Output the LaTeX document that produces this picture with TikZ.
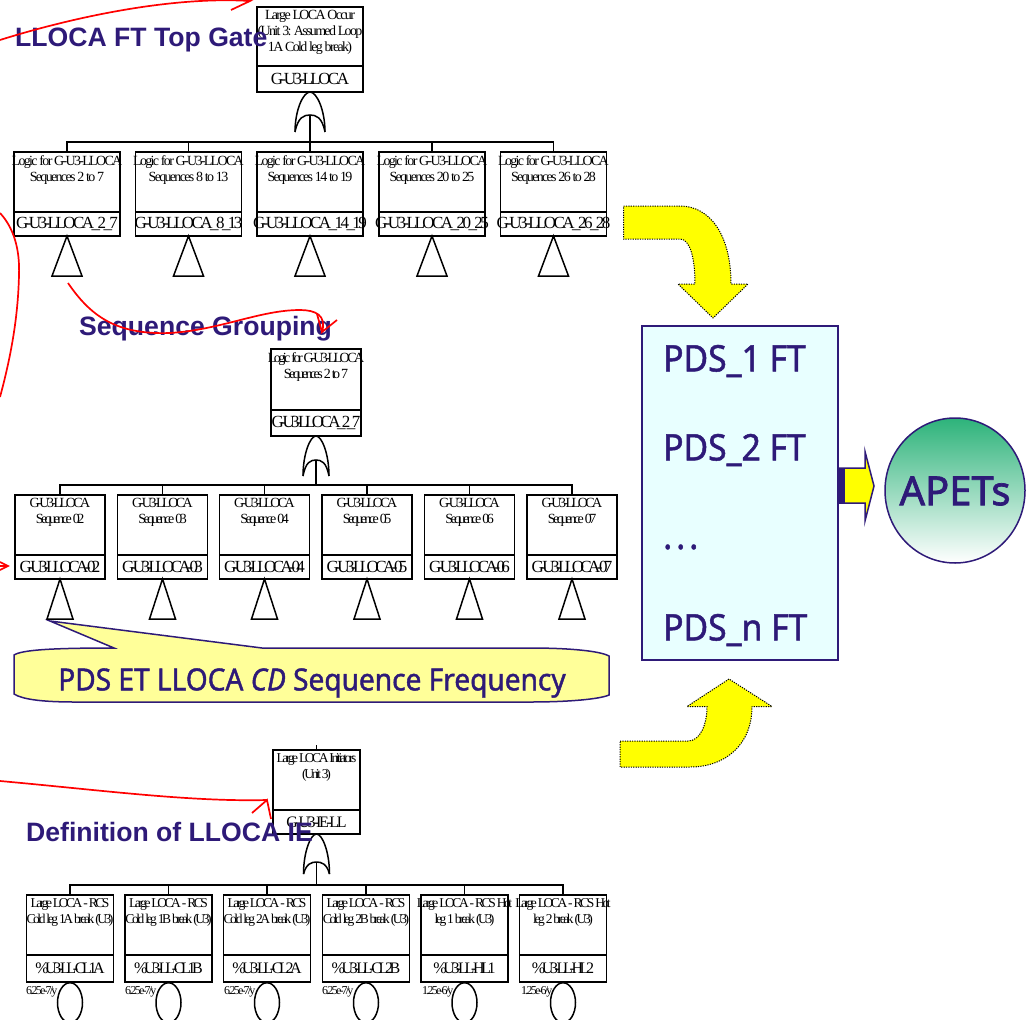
\documentclass[tikz,border=0pt]{standalone}
\usepackage{fontspec}
\setmainfont{Liberation Serif}
\newfontfamily\tightc[LetterSpace=-12]{Liberation Serif}
\newfontfamily\tightd[LetterSpace=-15]{Liberation Serif}
\newfontfamily\tighte[LetterSpace=-18]{Liberation Serif}
\newfontfamily\tightf[LetterSpace=-21]{Liberation Serif}
\newfontfamily\headfont{Liberation Sans}
\newfontfamily\pdsfont[FakeBold=1.3,FakeStretch=0.92]{Noto Sans}
\newfontfamily\apetfont[FakeBold=1.8]{Noto Sans}
\usetikzlibrary{shapes.geometric,calc}
\definecolor{navy}{HTML}{2E1A78}
\definecolor{paleyellow}{HTML}{FFFF99}
\definecolor{palecyan}{HTML}{E8FFFF}
\definecolor{apetgreen}{HTML}{2DB37A}
\definecolor{pureyellow}{HTML}{FFFF00}
\tikzset{
  cell/.style={draw=black,line width=1.6pt,rectangle,inner sep=0pt,outer sep=0pt,anchor=north,fill=white},
  ftline/.style={draw=black,line width=1.5pt},
  gatepath/.style={draw=black,line width=1.5pt},
  redcurve/.style={draw=red,line width=1.7pt},
  headtext/.style={font=\headfont\bfseries\fontsize{26.6}{28}\selectfont,text=navy,inner sep=0pt},
  pdstext/.style={font=\pdsfont\fontsize{36.6}{38}\selectfont,text=navy,inner sep=0pt,anchor=west},
  bigarrow/.style={fill=pureyellow,draw=black,line width=1pt,dash pattern=on 1.2pt off 1.2pt},
  ratetext/.style={font=\tightd\fontsize{12}{13}\selectfont,inner sep=0pt,anchor=west}
}
% name, cx, width, top, divider, bottom, description, label
\newcommand{\ftbox}[8]{%
  \node[cell,minimum width=#3pt,minimum height={(#5-#4)*1pt}] (#1-d) at (#2,#4) {};
  \node[cell,minimum width=#3pt,minimum height={(#6-#5)*1pt}] (#1) at (#2,#5) {};
  \node[anchor=north,align=center,inner sep=0pt,font=\dfont] (#1-t) at (#2,{#4+\dshift}) {#7};
  \node[inner sep=0pt,font=\lfont] (#1-l) at (#1.center) {#8};
}
% name, parent node, half width, height, inner-arc depth, bar y
\newcommand{\orgate}[6]{%
  \coordinate (#1-top) at (#2.south);
  \coordinate (#1-in) at ($(#2.south)+(0,#5)$);
  \coordinate (#1-bar) at ($(#2.south)+(0,#6)$);
  \draw[gatepath] ($(#2.south)+(-#3,#4)$)
     .. controls ($(#2.south)+(-#3,{#4*0.45})$) and ($(#2.south)+({-#3*0.45},0)$) .. (#1-top)
     .. controls ($(#2.south)+({#3*0.45},0)$) and ($(#2.south)+(#3,{#4*0.45})$) .. ($(#2.south)+(#3,#4)$);
  \draw[gatepath] ($(#2.south)+(-#3,#4)$)
     .. controls ($(#2.south)+({-#3*0.8},{#5+2})$) and ($(#2.south)+({-#3*0.4},#5)$) .. (#1-in)
     .. controls ($(#2.south)+({#3*0.4},#5)$) and ($(#2.south)+({#3*0.8},{#5+2})$) .. ($(#2.south)+(#3,#4)$);
  \draw[ftline] (#1-in) -- (#1-bar);
}
\newcommand{\xfer}[3]{\draw[gatepath] (#1.south) -- ++(-#2,#3) -- ++({2*#2},0) -- cycle;}
\begin{document}
\begin{tikzpicture}[x=1pt,y=-1pt]
\useasboundingbox (0,0) rectangle (1035,1019);
\clip (0,0) rectangle (1035,1019);

% ---------- top group
\def\dshift{3.5}
\def\dfont{\tightc\fontsize{14}{15.6}\selectfont}
\def\lfont{\tightd\fontsize{17}{18}\selectfont}
\ftbox{top}{310}{106}{7}{66}{92}{Large LOCA Occur\\(Unit 3: Assumed Loop\\1A Cold leg break)}{G-U3-LLOCA}
\orgate{ga}{top}{15}{40}{23}{50}
\ftbox{a1}{67}{106}{152}{212}{236}{Logic for G-U3-LLOCA\\Sequences 2 to 7}{G-U3-LLOCA\_2\_7}
\ftbox{a2}{188.5}{106}{152}{212}{236}{Logic for G-U3-LLOCA\\Sequences 8 to 13}{G-U3-LLOCA\_8\_13}
\ftbox{a3}{310}{106}{152}{212}{236}{Logic for G-U3-LLOCA\\Sequences 14 to 19}{G-U3-LLOCA\_14\_19}
\ftbox{a4}{432}{106}{152}{212}{236}{Logic for G-U3-LLOCA\\Sequences 20 to 25}{G-U3-LLOCA\_20\_25}
\ftbox{a5}{553.5}{106}{152}{212}{236}{Logic for G-U3-LLOCA\\Sequences 26 to 28}{G-U3-LLOCA\_26\_28}
\foreach \n in {a1,a2,a3,a4,a5}{
  \draw[ftline] (\n-d.north) |- (ga-bar);
  \xfer{\n}{15}{40}
}

% ---------- middle group
\def\dfont{\tighte\fontsize{14}{15.6}\selectfont}
\def\lfont{\tightf\fontsize{17}{18}\selectfont}
\ftbox{mid}{316}{90}{349}{410}{436}{Logic for G-U3-LLOCA\\Sequences 2 to 7}{G-U3-LLOCA\_2\_7}
\orgate{gb}{mid}{13}{40}{24}{49}
\ftbox{b1}{60}{90}{495}{555}{579}{G-U3-LLOCA\\Sequence 02}{G-U3-LLOCA-02}
\ftbox{b2}{162.5}{90}{495}{555}{579}{G-U3-LLOCA\\Sequence 03}{G-U3-LLOCA-03}
\ftbox{b3}{264.5}{90}{495}{555}{579}{G-U3-LLOCA\\Sequence 04}{G-U3-LLOCA-04}
\ftbox{b4}{367}{90}{495}{555}{579}{G-U3-LLOCA\\Sequence 05}{G-U3-LLOCA-05}
\ftbox{b5}{469.5}{90}{495}{555}{579}{G-U3-LLOCA\\Sequence 06}{G-U3-LLOCA-06}
\ftbox{b6}{572}{90}{495}{555}{579}{G-U3-LLOCA\\Sequence 07}{G-U3-LLOCA-07}
\foreach \n in {b1,b2,b3,b4,b5,b6}{
  \draw[ftline] (\n-d.north) |- (gb-bar);
  \xfer{\n}{13}{40}
}

% ---------- bottom group
\def\dfont{\tighte\fontsize{13.5}{15.6}\selectfont}
\def\lfont{\tightd\fontsize{16}{18}\selectfont}
\ftbox{bot}{316.5}{87}{750}{810}{834}{Large LOCA Initiators\\(Unit 3)}{G-U3-IE-LL}
\coordinate (botup) at (316.5,745);
\draw[ftline] (bot-d.north) -- (botup);
\orgate{gc}{bot}{13}{40}{28}{51}
\def\lfont{\tightf\fontsize{16}{18}\selectfont}
\ftbox{c1}{70}{87}{895}{955}{982}{Large LOCA - RCS\\Cold leg 1A break (U3)}{\%U3-LL-CL1A}
\ftbox{c2}{168.5}{87}{895}{955}{982}{Large LOCA - RCS\\Cold leg 1B break (U3)}{\%U3-LL-CL1B}
\ftbox{c3}{267}{87}{895}{955}{982}{Large LOCA - RCS\\Cold leg 2A break (U3)}{\%U3-LL-CL2A}
\ftbox{c4}{366}{87}{895}{955}{982}{Large LOCA - RCS\\Cold leg 2B break (U3)}{\%U3-LL-CL2B}
\ftbox{c5}{464.5}{87}{895}{955}{982}{Large LOCA - RCS Hot\\leg 1 break (U3)}{\%U3-LL-HL1}
\ftbox{c6}{563}{87}{895}{955}{982}{Large LOCA - RCS Hot\\leg 2 break (U3)}{\%U3-LL-HL2}
\foreach \n in {c1,c2,c3,c4,c5,c6}{
  \draw[ftline] (\n-d.north) |- (gc-bar);
  \node[draw=black,line width=1.5pt,ellipse,inner sep=0pt,minimum width=25pt,minimum height=40pt,anchor=north] (\n-e) at (\n.south) {};
}
\node[ratetext] (r1) at (26,992) {6.25e-7/y};
\node[ratetext] (r2) at (125,992) {6.25e-7/y};
\node[ratetext] (r3) at (224,992) {6.25e-7/y};
\node[ratetext] (r4) at (322,992) {6.25e-7/y};
\node[ratetext] (r5) at (422,992) {1.25e-6/y};
\node[ratetext] (r6) at (521,992) {1.25e-6/y};

% ---------- callout
\draw[fill=paleyellow,draw=navy,line width=1.5pt]
  (50,621) -- (262,648) -- (530,648) .. controls (570,648) and (600,651) .. (609,656)
  -- (609,695) .. controls (600,699) and (570,702) .. (530,702)
  -- (75,702) .. controls (40,702) and (22,699) .. (14,694)
  -- (14,655) .. controls (22,650) and (50,648) .. (114,648) -- cycle;
\node[inner sep=0pt,text=navy,font=\pdsfont\fontsize{30.5}{32}\selectfont] (callout) at (312,683) {PDS ET LLOCA \textit{CD} Sequence Frequency};

% ---------- big yellow arrows
\draw[bigarrow] (623.5,206) -- (680,206) .. controls (710,206) and (731,235) .. (731,284)
  -- (748,284) -- (713,318) -- (678,284) -- (695,284)
  .. controls (695,258) and (690,239) .. (680,239) -- (623.5,239) -- cycle;
\draw[bigarrow] (620,741) -- (688,741) .. controls (700,741) and (707,725) .. (707,706.5)
  -- (687,706.5) -- (729,679) -- (772,706.5) -- (752,706.5)
  .. controls (752,745) and (725,767) .. (690,767) -- (620,767) -- cycle;

% ---------- PDS box
\node[draw=navy,fill=palecyan,line width=1.5pt,minimum width=196pt,minimum height=334pt,inner sep=0pt,outer sep=0pt] (pds) at (740,493) {};
\node[pdstext] (p1) at (663,361) {PDS\_1 FT};
\node[pdstext] (p2) at (663,450) {PDS\_2 FT};
\node[pdstext] (p3) at (663,547) {.\kern4pt.\kern4pt.};
\node[pdstext] (p4) at (663,630) {PDS\_n FT};

% ---------- small arrow and APETs
\draw[fill=pureyellow,draw=navy,line width=1.5pt] (pds.east |- 0,468) -- (865,468) -- (865,451.5) -- (874,486) -- (865,521) -- (865,503) -- (pds.east |- 0,503) -- cycle;
\fill[navy] (838,468) rectangle (845,503);
\node[ellipse,draw=navy,line width=1.5pt,top color=apetgreen,bottom color=white,minimum width=140pt,minimum height=145pt,inner sep=0pt] (apet) at (955,490.5) {};
\node[inner sep=0pt,text=navy,font=\apetfont\fontsize{40}{42}\selectfont] (apetl) at (955,491) {APETs};

% ---------- headings
\node[headtext,anchor=west] (h1) at (15,40) {LLOCA FT Top Gate};
\node[headtext,anchor=west] (h2) at (79,329) {Sequence Grouping};
\node[headtext,anchor=west] (h3) at (26,832) {Definition of LLOCA IE};

% ---------- red annotations
\coordinate (r1s) at (0,40);
\coordinate (r1e) at (250,1);
\coordinate (r1b) at (231,10);
\draw[redcurve] (r1s) .. controls (70,18) and (170,-4) .. (r1e) -- (r1b);
\coordinate (r2s) at (0,213);
\coordinate (r2e) at (0,397);
\draw[redcurve] (r2s) .. controls (14,228) and (20,250) .. (19,275) .. controls (18,320) and (10,360) .. (r2e);
\coordinate (r3t) at (8,566);
\draw[redcurve] (0,562) -- (r3t) -- (0,570) (0,566) -- (r3t);
\coordinate (r4s) at (68,283);
\coordinate (r4e) at (322,332);
\draw[redcurve] (r4s) .. controls (90,315) and (115,335) .. (170,333)
  .. controls (220,330) and (260,310) .. (300,310) .. controls (315,310) and (327,315) .. (r4e) -- (337,320);
\coordinate (r4b) at (317,314);
\draw[redcurve] (r4b) -- (r4e);
\coordinate (r5s) at (0,781);
\coordinate (r5t) at (267,800);
\draw[redcurve] (r5s) .. controls (100,790) and (190,802) .. (r5t);
\draw[redcurve] (252,813) -- (r5t) -- (271,819);
\end{tikzpicture}
\end{document}
